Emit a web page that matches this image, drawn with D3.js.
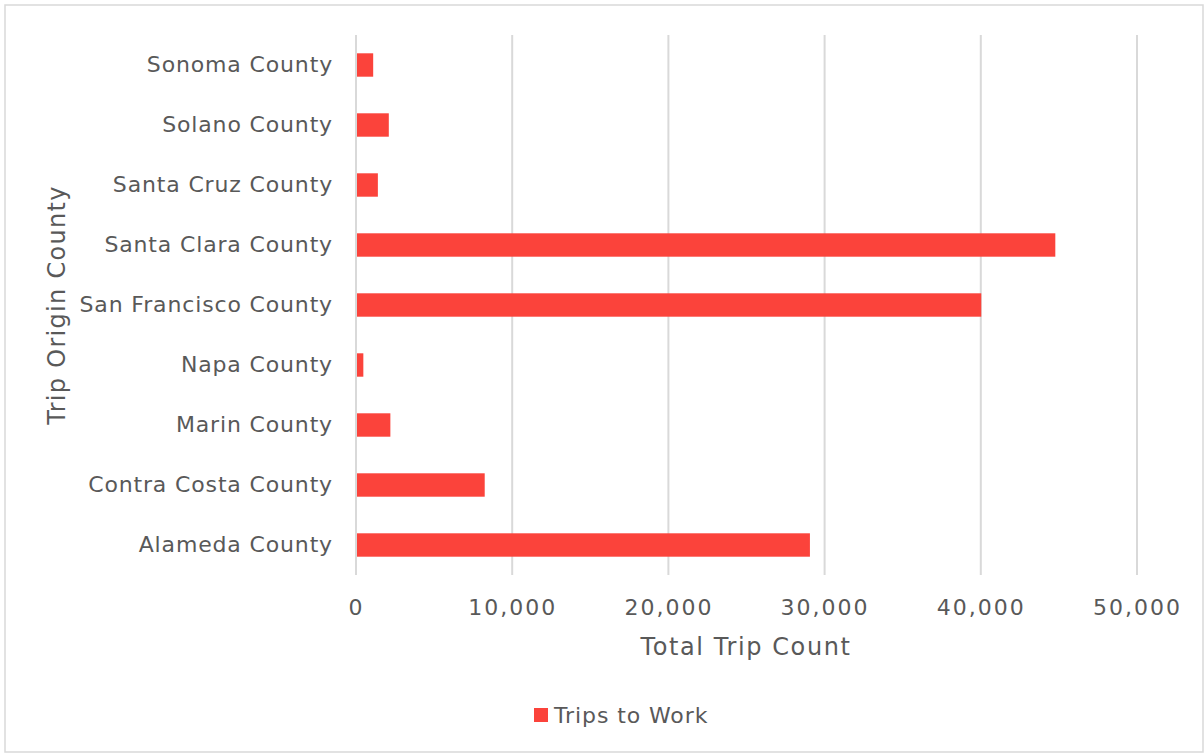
<!DOCTYPE html>
<html>
<head>
<meta charset="utf-8">
<script src="https://cdn.jsdelivr.net/npm/d3@7"></script>
<style>
  body { margin: 0; background: #fff; }
  text { font-family: "DejaVu Sans", sans-serif; fill: #595959; }
</style>
</head>
<body>
<div id="chart"></div>
<script>
const counties = ["Sonoma County", "Solano County", "Santa Cruz County", "Santa Clara County",
    "San Francisco County", "Napa County", "Marin County", "Contra Costa County", "Alameda County"];
const tripsToWork = [1100, 2100, 1400, 44770, 40030, 470, 2200, 8240, 29060];
const xTicks = [0, 10000, 20000, 30000, 40000, 50000];

const W = 1204, H = 753;
const margin = { top: 35, right: 67, bottom: 178, left: 356 },
    width = W - margin.left - margin.right,
    height = H - margin.top - margin.bottom;

const root = d3.select("#chart").append("svg")
    .attr("width", W)
    .attr("height", H);

// outer border
root.append("rect")
    .attr("x", 5).attr("y", 5)
    .attr("width", W - 6).attr("height", H - 6)
    .attr("fill", "none")
    .attr("stroke", "#d9d9d9")
    .attr("stroke-width", 1.5);

const svg = root.append("g")
    .attr("transform", `translate(${margin.left}, ${margin.top})`);

const x = d3.scaleLinear().domain([0, 50000]).range([0, width]);
const y = d3.scaleBand().domain(counties).range([0, height]).paddingInner(0.61).paddingOuter(0.305);

/* gridlines */
svg.selectAll(".grid")
    .data(xTicks)
    .enter()
    .append("line")
    .attr("x1", d => x(d)).attr("x2", d => x(d))
    .attr("y1", 0).attr("y2", height)
    .attr("stroke", "#d9d9d9")
    .attr("stroke-width", 2);

/* bars */
svg.selectAll(".bar")
    .data(counties)
    .enter()
    .append("rect")
    .attr("x", x(0) + 1)
    .attr("y", d => y(d))
    .attr("width", (d, i) => x(tripsToWork[i]) - x(0) - 1)
    .attr("height", y.bandwidth())
    .attr("fill", "#fb433b");

/* x axis */
const xAxis = svg.append("g")
    .attr("transform", `translate(0, ${height})`)
    .call(d3.axisBottom(x).tickValues(xTicks).tickSize(0).tickPadding(24).tickFormat(d3.format(",")));
xAxis.select(".domain").remove();
xAxis.selectAll("text")
    .style("font-size", "22px")
    .style("letter-spacing", "2px")
    .attr("fill", "#595959");

/* y axis */
const yAxis = svg.append("g")
    .call(d3.axisLeft(y).tickSize(0).tickPadding(23));
yAxis.select(".domain").remove();
yAxis.selectAll("text")
    .style("font-size", "22px")
    .style("letter-spacing", "0.85px")
    .attr("fill", "#595959");

/* axis titles */
svg.append("text")
    .attr("text-anchor", "middle")
    .attr("x", 390)
    .attr("y", height + 80)
    .style("font-size", "24px")
    .style("letter-spacing", "1.6px")
    .text("Total Trip Count");

svg.append("text")
    .attr("text-anchor", "middle")
    .attr("transform", "rotate(-90)")
    .attr("x", -270)
    .attr("y", -291)
    .style("font-size", "24px")
    .style("letter-spacing", "1.3px")
    .text("Trip Origin County");

/* legend */
const legend = root.append("g").attr("transform", "translate(534, 708)");
legend.append("rect").attr("width", 14).attr("height", 14).attr("fill", "#fb433b");
legend.append("text")
    .attr("x", 20).attr("y", 15)
    .style("font-size", "22px")
    .style("letter-spacing", "0.9px")
    .text("Trips to Work");
</script>
</body>
</html>
